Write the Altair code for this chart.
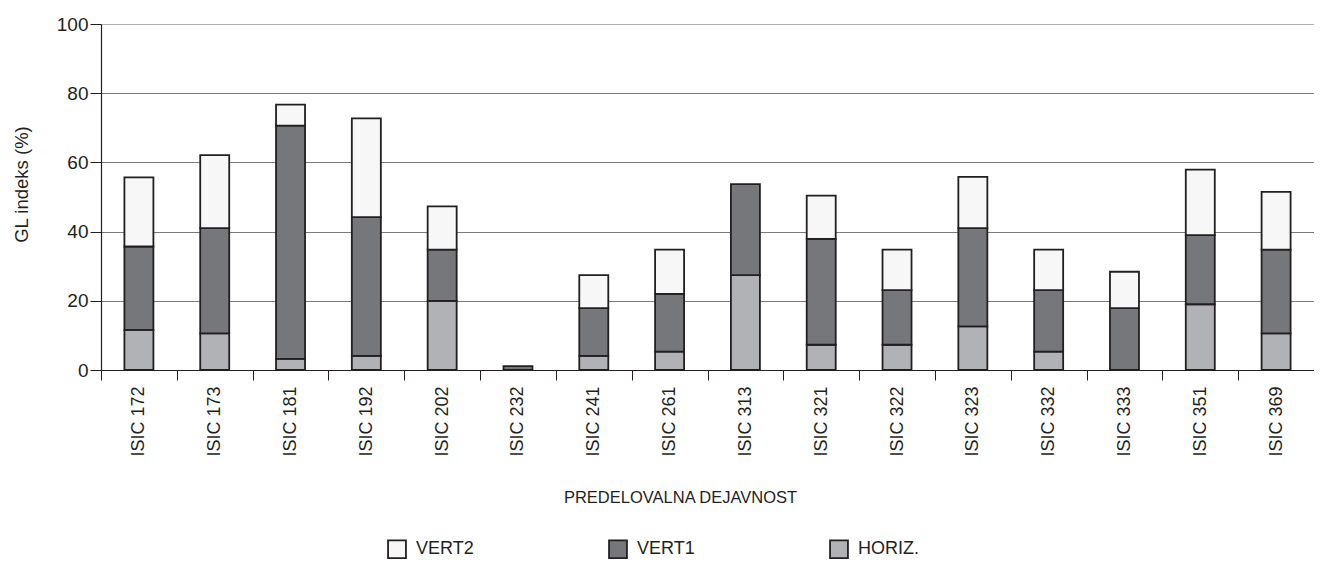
import altair as alt
import pandas as pd

categories = ["ISIC 172", "ISIC 173", "ISIC 181", "ISIC 192", "ISIC 202", "ISIC 232",
              "ISIC 241", "ISIC 261", "ISIC 313", "ISIC 321", "ISIC 322", "ISIC 323",
              "ISIC 332", "ISIC 333", "ISIC 351", "ISIC 369"]
horiz = [11.6, 10.6, 3.2, 4.1, 20.0, 0.0, 4.1, 5.3, 27.4, 7.3, 7.3, 12.6, 5.3, 0.0, 19.0, 10.6]
vert1 = [24.1, 30.4, 67.4, 40.1, 14.8, 1.1, 13.8, 16.7, 26.3, 30.6, 15.8, 28.4, 17.8, 17.9, 20.0, 24.2]
vert2 = [20.0, 21.1, 6.1, 28.5, 12.5, 0.0, 9.5, 12.8, 0.0, 12.5, 11.7, 14.8, 11.7, 10.5, 18.9, 16.7]
series = ["VERT2", "VERT1", "HORIZ."]
colors = ["#f7f7f7", "#76777b", "#b1b2b5"]

rows = []
for i, c in enumerate(categories):
    for s, vals, o in (("HORIZ.", horiz, 0), ("VERT1", vert1, 1), ("VERT2", vert2, 2)):
        if vals[i] > 0:
            rows.append({"kat": c, "serija": s, "vrednost": vals[i], "red": o})
df = pd.DataFrame(rows)

FONT = "Liberation Sans, Arial, sans-serif"
INK = "#231f20"

chart = alt.Chart(df).mark_bar(width=29, stroke=INK, strokeWidth=1.8).encode(
    x=alt.X("kat:N", sort=categories,
            scale=alt.Scale(paddingInner=0, paddingOuter=0),
            axis=alt.Axis(title="PREDELOVALNA DEJAVNOST", labelAngle=-90, tickBand="extent",
                          tickSize=10, tickColor=INK, domainColor=INK, domainWidth=1.2,
                          labelFontSize=18, labelPadding=6, labelColor=INK, labelFont=FONT,
                          titleFontSize=16.5, titleFontWeight="normal", titleColor=INK, titleFont=FONT,
                          titleX=579, titleY=127, titleBaseline="middle", grid=False)),
    y=alt.Y("vrednost:Q", stack="zero", scale=alt.Scale(domain=[0, 100]),
            axis=alt.Axis(values=[0, 20, 40, 60, 80, 100], title="GL indeks (%)",
                          tickSize=11, tickColor=INK, domainColor=INK, domainWidth=1.2,
                          grid=True, gridWidth=1.2,
                          gridColor=alt.condition("datum.value == 100", alt.value("#b0b0b0"), alt.value("#7a7a7a")),
                          labelFontSize=19, labelPadding=2, labelColor=INK, labelFont=FONT,
                          titleFontSize=18.5, titleFontWeight="normal", titleColor=INK, titleFont=FONT,
                          titleX=-80, titleY=160, titleBaseline="middle")),
    color=alt.Color("serija:N", scale=alt.Scale(domain=series, range=colors),
                    legend=alt.Legend(title=None, orient="none", legendX=286, legendY=515,
                                      direction="horizontal", symbolType="square", symbolSize=320,
                                      symbolStrokeColor=INK, symbolStrokeWidth=1.8, symbolOpacity=1,
                                      labelFontSize=18, labelFont=FONT, labelColor=INK,
                                      labelOffset=9, labelBaseline="middle", columnPadding=131,
                                      gridAlign="each")),
    order=alt.Order("red:Q", sort="ascending"),
).properties(
    width=1213, height=346,
    autosize=alt.AutoSizeParams(type="none"),
    padding={"left": 93, "top": 16, "right": 0, "bottom": 214},
).configure_view(stroke=None).configure(font=FONT)

chart.save("out.html", embed_options={"renderer": "svg", "actions": False})
